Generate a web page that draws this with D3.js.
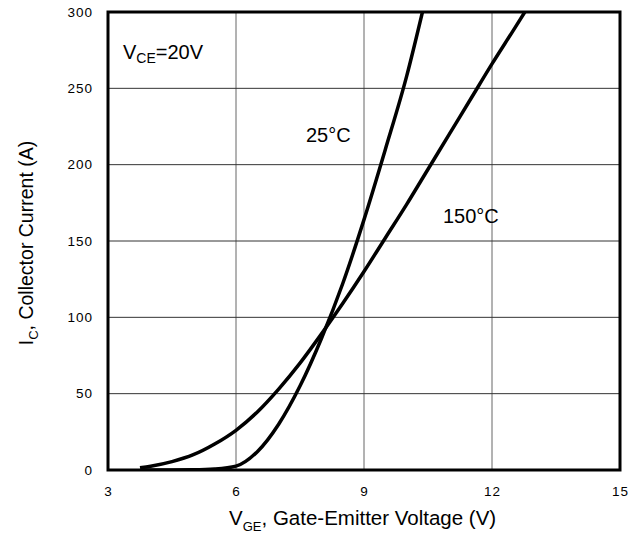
<!DOCTYPE html>
<html>
<head>
<meta charset="utf-8">
<script src="https://cdn.jsdelivr.net/npm/d3@7"></script>
<style>
    body { margin: 0; background: white; }
    text { font-family: "Liberation Sans", Arial, sans-serif; fill: black; }
</style>
</head>
<body>
<div id="chart"></div>
<script>
// transfer characteristic
const vge25 = [3.8, 4.5, 5.0, 5.5, 6.0, 6.5, 7.0, 7.5, 8.0, 8.5, 9.0, 9.5, 10.0, 10.37]
const ic25 = [0, 0, 0.1, 0.6, 2.5, 12, 30, 55, 86, 122, 164, 210, 258, 300]

const vge150 = [3.75, 4.0, 4.5, 5.0, 5.5, 6.0, 6.5, 7.0, 7.5, 8.0, 8.5, 9.0, 9.5, 10.0, 10.5, 11.0, 11.5, 12.0, 12.5, 12.77]
const ic150 = [1.5, 2.5, 5.5, 10, 17, 26, 38, 53, 70, 89, 109, 130, 152, 174, 197, 220, 243, 266, 288, 300]

const xTicks = [3, 6, 9, 12, 15]
const yTicks = [0, 50, 100, 150, 200, 250, 300]

const width = 643
const height = 543
const margin = {left: 108, right: 23, top: 12, bottom: 73} // plot box 108..620, 12..470

const svg = d3.select("#chart").append("svg")
    .attr("width", width)
    .attr("height", height)

const x = d3.scaleLinear().domain([3, 15]).range([margin.left, width - margin.right])
const y = d3.scaleLinear().domain([0, 300]).range([height - margin.bottom, margin.top])

// --------- GRID
svg.append("g")
    .selectAll("line")
    .data(xTicks.slice(1, -1))
    .join("line")
    .attr("x1", d => x(d)).attr("x2", d => x(d))
    .attr("y1", y(0)).attr("y2", y(300))
    .attr("stroke", "#666")
    .attr("stroke-width", 1)

svg.append("g")
    .selectAll("line")
    .data(yTicks.slice(1, -1))
    .join("line")
    .attr("x1", x(3)).attr("x2", x(15))
    .attr("y1", d => y(d)).attr("y2", d => y(d))
    .attr("stroke", "#333")
    .attr("stroke-width", 1)

// --------- AXES (labels only, the box is drawn below)
const xAxis = svg.append("g")
    .attr("transform", `translate(0, ${y(0)})`)
    .call(d3.axisBottom(x).tickValues(xTicks).tickSize(0).tickPadding(16))
xAxis.select(".domain").remove()
xAxis.selectAll("text")
    .style("font-size", "13.5px")
    .style("letter-spacing", "1px")
    .style("font-family", "'Liberation Sans', Arial, sans-serif")

const yAxis = svg.append("g")
    .attr("transform", `translate(${x(3)}, 0)`)
    .call(d3.axisLeft(y).tickValues(yTicks).tickSize(0).tickPadding(15))
yAxis.select(".domain").remove()
yAxis.selectAll("text")
    .style("font-size", "13.5px")
    .style("letter-spacing", "1px")
    .style("font-family", "'Liberation Sans', Arial, sans-serif")

// --------- CURVES
const line = d3.line()
    .x(d => x(d[0]))
    .y(d => y(d[1]))
    .curve(d3.curveMonotoneX)

const series = [
    {id: "t25", pts: d3.zip(vge25, ic25)},
    {id: "t150", pts: d3.zip(vge150, ic150)}
]

svg.append("defs").append("clipPath")
    .attr("id", "plot-clip")
    .append("rect")
    .attr("x", x(3)).attr("y", y(300))
    .attr("width", x(15) - x(3)).attr("height", y(0) - y(300))

svg.append("g")
    .attr("clip-path", "url(#plot-clip)")
    .selectAll("path")
    .data(series, d => d.id)
    .join("path")
    .attr("d", d => line(d.pts))
    .attr("fill", "none")
    .attr("stroke", "black")
    .attr("stroke-width", 3.5)

// plot frame
svg.append("rect")
    .attr("x", x(3)).attr("y", y(300))
    .attr("width", x(15) - x(3)).attr("height", y(0) - y(300))
    .attr("fill", "none")
    .attr("stroke", "black")
    .attr("stroke-width", 3)

// --------- ANNOTATIONS
const vce = svg.append("text")
    .attr("x", 123).attr("y", 59)
    .style("font-size", "20px")
vce.append("tspan").text("V")
vce.append("tspan").text("CE").style("font-size", "14px").attr("dy", 4)
vce.append("tspan").text("=20V").attr("dy", -4)

svg.append("text")
    .attr("x", 306).attr("y", 142)
    .style("font-size", "20px")
    .text("25°C")

svg.append("text")
    .attr("x", 443).attr("y", 223)
    .style("font-size", "20px")
    .text("150°C")

// axis titles
const xTitle = svg.append("text")
    .attr("x", 229).attr("y", 525)
    .style("font-size", "20.5px")
xTitle.append("tspan").text("V")
xTitle.append("tspan").text("GE").style("font-size", "13px").attr("dy", 6)
xTitle.append("tspan").text(", Gate-Emitter Voltage (V)").attr("dy", -6)

const yTitle = svg.append("text")
    .attr("transform", "translate(33, 243) rotate(-90)")
    .attr("text-anchor", "middle")
    .style("font-size", "19.5px")
yTitle.append("tspan").text("I")
yTitle.append("tspan").text("C").style("font-size", "13px").attr("dy", 5)
yTitle.append("tspan").text(", Collector Current (A)").attr("dy", -5)
</script>
</body>
</html>
